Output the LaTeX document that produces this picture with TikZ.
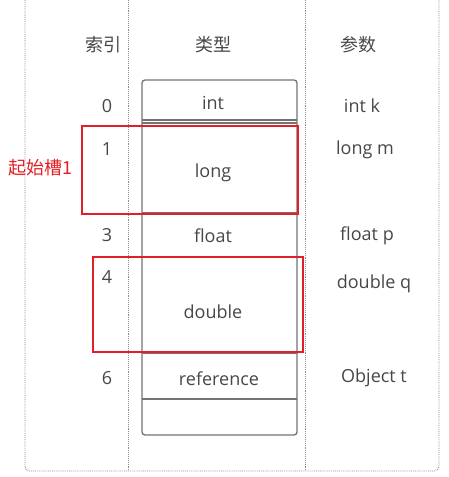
\documentclass[tikz,border=0pt]{standalone}
\usepackage{fontspec}
\setmainfont{Open Sans}
\newfontfamily\cjk{Noto Sans CJK SC}
\definecolor{hlred}{RGB}{228,30,38}
\begin{document}
\begin{tikzpicture}[x=1pt,y=-1pt,
  txt/.style={text=black!72, font=\fontsize{18}{20}\selectfont, inner sep=0pt},
  cjktxt/.style={text=black!72, font=\cjk\fontsize{18}{20}\selectfont, inner sep=0pt},
  grid/.style={black!45, densely dotted, line width=0.9pt},
  cell/.style={black!55, line width=1.3pt},
  hl/.style={draw=hlred, line width=1.8pt}]
\useasboundingbox (0,0) rectangle (448,477);
% dotted frame
\draw[grid] (25,0) -- (25,466) to[out=-90,in=180] (29,471) -- (434,471) to[out=0,in=-90] (439,466) -- (439,0);
\draw[grid] (128,0) -- (128,471);
\draw[grid] (305,0) -- (305,471);
% headers
\node[cjktxt] (hIdx) at (103,45) {索引};
\node[cjktxt] (hType) at (213,45) {类型};
\node[cjktxt] (hPar) at (358,45) {参数};
% stack box
\draw[cell, rounded corners=3pt] (142,80) rectangle (297,435);
\draw[cell] (142,120) -- (297,120);
\draw[cell] (142,123) -- (297,123);
\draw[cell] (142,213) -- (297,213);
\draw[cell] (142,257) -- (297,257);
\draw[cell] (142,353) -- (297,353);
\draw[cell] (142,399) -- (297,399);
% type labels
\node[txt] (tInt) at (213,103) {int};
\node[txt] (tLong) at (213,173) {long};
\node[txt] (tFloat) at (213,236) {float};
\node[txt] (tDouble) at (213,312) {double};
\node[txt] (tRef) at (219,379) {reference};
% indices
\node[txt] (i0) at (107,106) {0};
\node[txt] (i1) at (107,149) {1};
\node[txt] (i3) at (107,235) {3};
\node[txt] (i4) at (107,277) {4};
\node[txt] (i6) at (107,378) {6};
% params
\node[txt] (pInt) at (362,106) {int k};
\node[txt] (pLong) at (365,150) {long m};
\node[txt] (pFloat) at (367,236) {float p};
\node[txt] (pDouble) at (374,284) {double q};
\node[txt] (pObj) at (374,378) {Object t};
% highlights
\draw[hl] (82,126) rectangle (298,214);
\draw[hl] (93,257) rectangle (303,352);
\node[text=hlred, font=\cjk\fontsize{18}{20}\selectfont, inner sep=0pt] (start) at (40,168) {起始槽1};
\end{tikzpicture}
\end{document}
